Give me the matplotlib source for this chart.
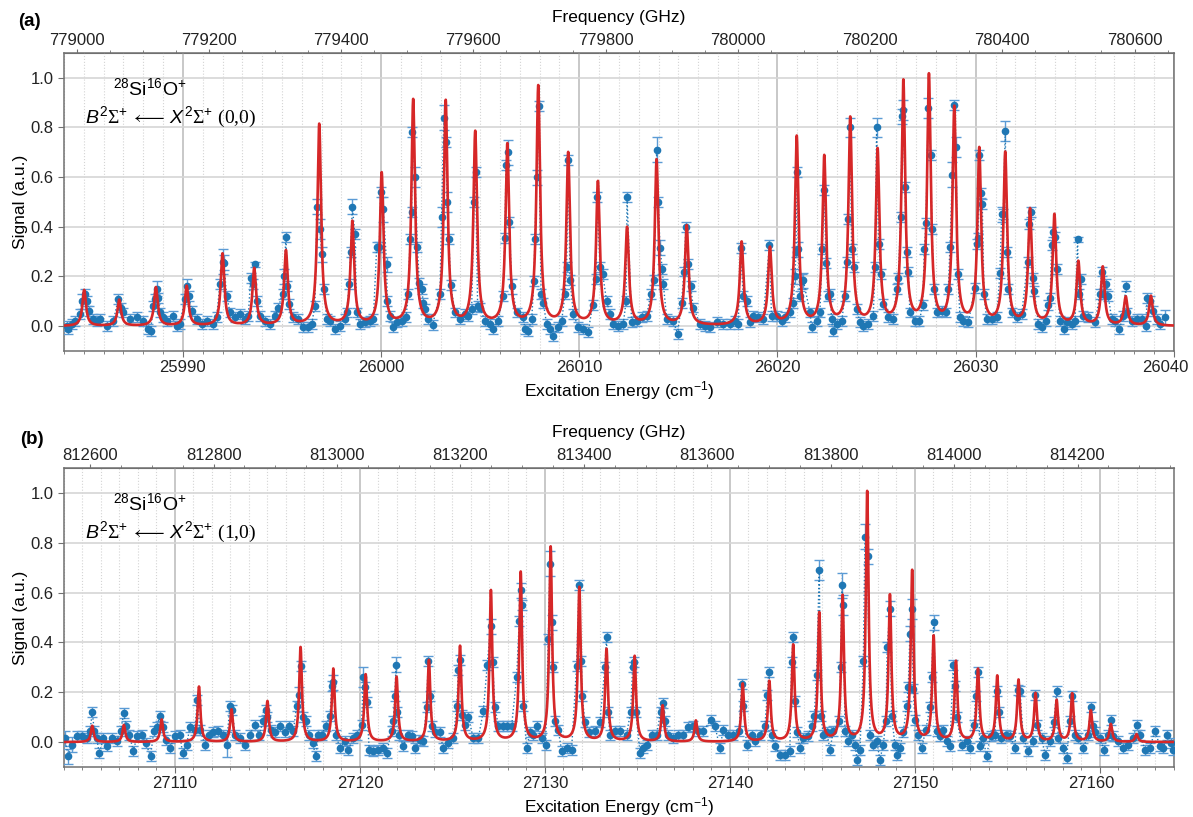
import numpy as np
import matplotlib
matplotlib.use("Agg")
import matplotlib.pyplot as plt
import matplotlib.transforms as mtransforms
from matplotlib.ticker import MultipleLocator, FixedLocator, FormatStrFormatter

plt.rcParams['font.family'] = ['Liberation Sans', 'DejaVu Sans']
plt.rcParams['mathtext.fontset'] = 'custom'
plt.rcParams['mathtext.rm'] = 'Liberation Serif'
plt.rcParams['mathtext.it'] = 'Liberation Sans:italic'
plt.rcParams['mathtext.sf'] = 'Liberation Sans'
plt.rcParams['mathtext.fallback'] = 'stix'

GHZ_PER_CM = 29.9792458

# ---------------- panel (a): (0,0) band ----------------
a_x = [
    25984.13, 25984.22, 25984.39, 25984.55, 25984.81, 25984.89, 25985.06, 25985.18, 25985.28, 25985.48,
    25985.65, 25985.82, 25986.15, 25986.49, 25986.74, 25986.86, 25986.99, 25987.33, 25987.67, 25988.00,
    25988.25, 25988.37, 25988.51, 25988.59, 25988.68, 25988.76, 25988.84, 25989.01, 25989.18, 25989.52,
    25989.68, 25989.85, 25990.10, 25990.19, 25990.32, 25990.44, 25990.69, 25990.95, 25991.20, 25991.53,
    25991.70, 25991.87, 25992.01, 25992.07, 25992.21, 25992.38, 25992.63, 25992.88, 25993.13, 25993.30,
    25993.42, 25993.55, 25993.64, 25993.72, 25993.89, 25994.14, 25994.39, 25994.65, 25994.81, 25995.03,
    25995.10, 25995.20, 25995.27, 25995.37, 25995.57, 25995.82, 25996.08, 25996.33, 25996.50, 25996.66,
    25996.78, 25996.92, 25997.00, 25997.12, 25997.25, 25997.42, 25997.67, 25997.93, 25998.18, 25998.26,
    25998.40, 25998.46, 25998.55, 25998.68, 25998.77, 25998.93, 25999.19, 25999.44, 25999.61, 25999.78,
    25999.91, 25999.98, 26000.11, 26000.28, 26000.31, 26000.45, 26000.62, 26000.78, 26001.04, 26001.26,
    26001.37, 26001.46, 26001.54, 26001.57, 26001.71, 26001.83, 26001.93, 26002.05, 26002.13, 26002.22,
    26002.38, 26002.60, 26002.97, 26003.05, 26003.17, 26003.26, 26003.34, 26003.42, 26003.51, 26003.73,
    26003.98, 26004.23, 26004.40, 26004.57, 26004.69, 26004.77, 26004.87, 26004.99, 26005.24, 26005.49,
    26005.66, 26005.91, 26006.13, 26006.25, 26006.30, 26006.38, 26006.47, 26006.59, 26006.84, 26007.17,
    26007.26, 26007.43, 26007.60, 26007.71, 26007.76, 26007.85, 26007.95, 26008.07, 26008.18, 26008.35,
    26008.52, 26008.69, 26008.94, 26009.11, 26009.28, 26009.36, 26009.45, 26009.53, 26009.70, 26009.95,
    26010.20, 26010.45, 26010.67, 26010.84, 26010.91, 26011.04, 26011.18, 26011.38, 26011.55, 26011.72,
    26011.97, 26012.22, 26012.36, 26012.41, 26012.64, 26012.89, 26013.15, 26013.40, 26013.60, 26013.77,
    26013.90, 26013.99, 26014.07, 26014.19, 26014.24, 26014.41, 26014.74, 26014.96, 26015.16, 26015.28,
    26015.38, 26015.50, 26015.62, 26015.75, 26016.09, 26016.34, 26016.59, 26016.93, 26017.27, 26017.60,
    26017.85, 26018.02, 26018.14, 26018.27, 26018.44, 26018.61, 26018.78, 26019.03, 26019.28, 26019.59,
    26019.70, 26019.96, 26020.21, 26020.38, 26020.63, 26020.80, 26020.88, 26020.93, 26021.00, 26021.05,
    26021.15, 26021.22, 26021.30, 26021.64, 26021.72, 26021.98, 26022.14, 26022.26, 26022.36, 26022.45,
    26022.56, 26022.65, 26022.73, 26022.78, 26022.98, 26023.24, 26023.40, 26023.49, 26023.57, 26023.66,
    26023.74, 26023.86, 26023.99, 26024.16, 26024.33, 26024.58, 26024.83, 26024.92, 26025.00, 26025.10,
    26025.20, 26025.34, 26025.59, 26025.84, 26026.01, 26026.10, 26026.21, 26026.30, 26026.35, 26026.43,
    26026.52, 26026.60, 26026.68, 26026.94, 26027.16, 26027.32, 26027.41, 26027.49, 26027.61, 26027.73,
    26027.79, 26027.90, 26028.03, 26028.28, 26028.48, 26028.62, 26028.70, 26028.82, 26028.92, 26029.00,
    26029.09, 26029.21, 26029.37, 26029.63, 26029.96, 26030.05, 26030.13, 26030.18, 26030.25, 26030.33,
    26030.42, 26030.55, 26030.80, 26031.06, 26031.22, 26031.31, 26031.39, 26031.49, 26031.58, 26031.65,
    26031.81, 26032.07, 26032.32, 26032.62, 26032.70, 26032.77, 26032.87, 26032.96, 26033.16, 26033.33,
    26033.53, 26033.66, 26033.75, 26033.83, 26033.92, 26034.02, 26034.08, 26034.25, 26034.47, 26034.62,
    26034.84, 26035.01, 26035.14, 26035.19, 26035.31, 26035.43, 26035.68, 26036.02, 26036.27, 26036.35,
    26036.44, 26036.57, 26036.69, 26036.86, 26037.03, 26037.25, 26037.45, 26037.57, 26037.62, 26037.87,
    26038.12, 26038.37, 26038.57, 26038.66, 26038.79, 26038.93, 26039.13, 26039.30, 26039.55,
]
a_y = [
    0.00, -0.01, 0.01, 0.02, 0.05, 0.10, 0.13, 0.10, 0.06, 0.03,
    0.02, 0.03, 0.00, 0.02, 0.11, 0.075, 0.055, 0.03, 0.035, 0.02,
    -0.01, -0.02, 0.08, 0.11, 0.15, 0.115, 0.055, 0.035, 0.02, 0.04,
    0.00, 0.01, 0.11, 0.16, 0.12, 0.06, 0.03, 0.01, 0.02, 0.01,
    0.035, 0.17, 0.26, 0.255, 0.12, 0.055, 0.035, 0.05, 0.03, 0.04,
    0.195, 0.17, 0.25, 0.10, 0.04, 0.02, 0.01, 0.04, 0.075, 0.13,
    0.20, 0.36, 0.16, 0.09, 0.035, 0.03, -0.005, -0.005, 0.01, 0.08,
    0.48, 0.39, 0.29, 0.15, 0.03, 0.02, -0.01, 0.00, 0.03, 0.055,
    0.17, 0.30, 0.48, 0.37, 0.055, 0.01, 0.015, 0.02, 0.03, 0.32,
    0.32, 0.54, 0.47, 0.25, 0.10, 0.04, -0.005, 0.015, 0.02, 0.035,
    0.13, 0.35, 0.46, 0.78, 0.60, 0.32, 0.175, 0.15, 0.095, 0.07,
    0.03, 0.005, 0.13, 0.44, 0.84, 0.74, 0.50, 0.35, 0.165, 0.055,
    0.03, 0.05, 0.04, 0.07, 0.50, 0.62, 0.08, 0.075, 0.02, 0.01,
    -0.01, 0.02, 0.12, 0.355, 0.65, 0.70, 0.42, 0.16, 0.055, 0.035,
    -0.01, -0.02, 0.03, 0.18, 0.35, 0.60, 0.885, 0.13, 0.095, 0.01,
    -0.01, -0.04, -0.005, 0.02, 0.13, 0.24, 0.67, 0.185, 0.05, -0.005,
    -0.01, -0.025, 0.085, 0.19, 0.52, 0.24, 0.21, 0.10, 0.05, 0.01,
    0.00, 0.01, 0.10, 0.52, 0.015, 0.02, 0.035, 0.04, 0.13, 0.185,
    0.71, 0.50, 0.315, 0.23, 0.17, 0.03, 0.02, -0.03, 0.095, 0.22,
    0.40, 0.25, 0.16, 0.075, 0.01, 0.00, -0.005, 0.015, 0.01, 0.01,
    0.02, 0.01, 0.315, 0.12, 0.10, 0.015, 0.04, 0.035, 0.03, 0.325,
    0.04, 0.04, 0.02, 0.035, 0.055, 0.095, 0.20, 0.30, 0.62, 0.31,
    0.12, 0.18, 0.185, 0.055, -0.005, 0.02, 0.055, 0.31, 0.55, 0.255,
    0.12, 0.13, 0.03, -0.02, 0.01, 0.02, 0.12, 0.26, 0.43, 0.80,
    0.31, 0.24, 0.07, 0.015, 0.00, 0.01, 0.04, 0.24, 0.80, 0.33,
    0.21, 0.09, 0.035, 0.03, 0.15, 0.195, 0.44, 0.845, 0.87, 0.56,
    0.30, 0.22, 0.055, 0.02, 0.02, 0.085, 0.31, 0.415, 0.88, 0.69,
    0.39, 0.15, 0.055, 0.06, 0.055, 0.15, 0.32, 0.61, 0.89, 0.72,
    0.21, 0.035, 0.02, 0.015, 0.155, 0.33, 0.355, 0.69, 0.535, 0.49,
    0.13, 0.03, 0.03, 0.035, 0.215, 0.45, 0.45, 0.785, 0.30, 0.15,
    0.055, 0.035, 0.048, 0.26, 0.41, 0.46, 0.195, 0.14, 0.01, -0.005,
    0.02, 0.085, 0.115, 0.325, 0.38, 0.36, 0.23, 0.02, -0.01, 0.015,
    0.01, 0.02, 0.35, 0.13, 0.19, 0.04, 0.035, 0.015, 0.13, 0.22,
    0.13, 0.17, 0.12, 0.03, 0.02, -0.01, 0.04, 0.16, 0.055, 0.02,
    0.03, 0.03, 0.00, 0.115, 0.10, 0.06, 0.03, 0.01, 0.035,
]
a_err = [
    0.02, 0.02, 0.02, 0.02, 0.02, 0.03, 0.02, 0.02, 0.02, 0.02,
    0.02, 0.02, 0.02, 0.02, 0.02, 0.02, 0.02, 0.02, 0.02, 0.02,
    0.02, 0.02, 0.02, 0.02, 0.03, 0.02, 0.02, 0.02, 0.02, 0.02,
    0.02, 0.02, 0.02, 0.03, 0.02, 0.02, 0.02, 0.02, 0.02, 0.02,
    0.02, 0.02, 0.05, 0.03, 0.02, 0.02, 0.02, 0.02, 0.02, 0.02,
    0.02, 0.02, 0.01, 0.02, 0.02, 0.02, 0.02, 0.02, 0.02, 0.02,
    0.03, 0.02, 0.02, 0.02, 0.02, 0.02, 0.02, 0.02, 0.02, 0.02,
    0.03, 0.04, 0.03, 0.02, 0.02, 0.02, 0.02, 0.02, 0.02, 0.02,
    0.02, 0.02, 0.03, 0.02, 0.02, 0.02, 0.02, 0.02, 0.02, 0.02,
    0.02, 0.02, 0.05, 0.03, 0.02, 0.02, 0.02, 0.02, 0.02, 0.02,
    0.02, 0.02, 0.02, 0.02, 0.04, 0.02, 0.02, 0.02, 0.02, 0.02,
    0.02, 0.02, 0.02, 0.04, 0.05, 0.02, 0.04, 0.02, 0.02, 0.02,
    0.02, 0.02, 0.02, 0.02, 0.02, 0.02, 0.02, 0.02, 0.02, 0.02,
    0.02, 0.02, 0.02, 0.02, 0.02, 0.05, 0.02, 0.03, 0.02, 0.02,
    0.02, 0.02, 0.02, 0.02, 0.02, 0.03, 0.02, 0.02, 0.02, 0.02,
    0.02, 0.02, 0.02, 0.02, 0.02, 0.02, 0.02, 0.02, 0.02, 0.02,
    0.02, 0.02, 0.02, 0.02, 0.02, 0.02, 0.02, 0.02, 0.02, 0.02,
    0.02, 0.02, 0.02, 0.02, 0.02, 0.02, 0.02, 0.02, 0.02, 0.02,
    0.05, 0.02, 0.03, 0.02, 0.02, 0.02, 0.02, 0.02, 0.02, 0.02,
    0.02, 0.02, 0.02, 0.02, 0.02, 0.02, 0.02, 0.02, 0.02, 0.02,
    0.02, 0.02, 0.02, 0.02, 0.02, 0.02, 0.02, 0.02, 0.02, 0.02,
    0.02, 0.02, 0.02, 0.02, 0.02, 0.02, 0.03, 0.02, 0.02, 0.03,
    0.02, 0.03, 0.03, 0.02, 0.02, 0.02, 0.02, 0.02, 0.02, 0.02,
    0.02, 0.02, 0.02, 0.02, 0.02, 0.02, 0.02, 0.02, 0.02, 0.04,
    0.02, 0.02, 0.02, 0.02, 0.02, 0.02, 0.02, 0.02, 0.04, 0.02,
    0.02, 0.02, 0.02, 0.02, 0.02, 0.02, 0.02, 0.03, 0.04, 0.02,
    0.02, 0.02, 0.02, 0.02, 0.02, 0.02, 0.02, 0.02, 0.04, 0.02,
    0.02, 0.02, 0.02, 0.02, 0.02, 0.02, 0.02, 0.05, 0.02, 0.04,
    0.02, 0.02, 0.02, 0.02, 0.02, 0.02, 0.02, 0.02, 0.02, 0.02,
    0.02, 0.02, 0.02, 0.02, 0.02, 0.03, 0.02, 0.04, 0.02, 0.02,
    0.02, 0.02, 0.02, 0.02, 0.02, 0.02, 0.02, 0.02, 0.02, 0.02,
    0.02, 0.02, 0.02, 0.02, 0.02, 0.02, 0.02, 0.02, 0.02, 0.02,
    0.02, 0.02, 0.01, 0.02, 0.02, 0.02, 0.02, 0.02, 0.02, 0.02,
    0.02, 0.02, 0.02, 0.02, 0.02, 0.02, 0.02, 0.02, 0.02, 0.02,
    0.02, 0.02, 0.02, 0.02, 0.02, 0.02, 0.02, 0.02, 0.03,
]
# fitted line positions (cm-1) and heights
a_lines = [25985.02, 25986.79, 25988.64, 25990.19, 25992.00, 25993.60, 25995.20, 25996.88,
           25998.55, 26000.03, 26001.62, 26003.26, 26004.75, 26006.37, 26007.93, 26009.44,
           26010.94, 26012.41, 26013.90, 26015.42, 26018.19, 26019.62, 26020.97, 26022.36,
           26023.67, 26025.05, 26026.35, 26027.64, 26028.92, 26030.18, 26031.49, 26032.74,
           26033.97, 26035.18, 26036.41, 26037.57, 26038.84]
a_amp = [0.145, 0.105, 0.155, 0.16, 0.29, 0.23, 0.30, 0.81,
         0.415, 0.61, 0.905, 0.90, 0.775, 0.725, 0.96, 0.69,
         0.575, 0.39, 0.665, 0.40, 0.335, 0.31, 0.757, 0.675,
         0.83, 0.70, 0.976, 1.0, 0.87, 0.705, 0.69, 0.463,
         0.443, 0.255, 0.235, 0.115, 0.12]
a_cm_ticks = [25990, 26000, 26010, 26020, 26030, 26040]
a_ghz_ticks = [779000, 779200, 779400, 779600, 779800, 780000, 780200, 780400, 780600]

# ---------------- panel (b): (1,0) band ----------------
b_x = [
    27104.05, 27104.23, 27104.41, 27104.68, 27104.95, 27105.26, 27105.41, 27105.53, 27105.64, 27105.77,
    27105.91, 27106.13, 27106.31, 27106.58, 27106.85, 27107.06, 27107.24, 27107.35, 27107.53, 27107.75,
    27107.96, 27108.20, 27108.43, 27108.68, 27108.86, 27109.01, 27109.19, 27109.33, 27109.50, 27109.73,
    27110.00, 27110.27, 27110.41, 27110.63, 27110.81, 27111.08, 27111.21, 27111.35, 27111.62, 27111.86,
    27112.07, 27112.34, 27112.58, 27112.79, 27112.97, 27113.10, 27113.24, 27113.51, 27113.78, 27114.05,
    27114.32, 27114.56, 27114.77, 27114.92, 27114.99, 27115.17, 27115.41, 27115.68, 27115.95, 27116.18,
    27116.40, 27116.58, 27116.70, 27116.79, 27116.90, 27117.08, 27117.26, 27117.44, 27117.62, 27117.75,
    27117.93, 27118.16, 27118.38, 27118.47, 27118.56, 27118.70, 27118.92, 27119.19, 27119.37, 27119.64,
    27119.82, 27120.09, 27120.18, 27120.27, 27120.36, 27120.50, 27120.72, 27120.99, 27121.26, 27121.44,
    27121.71, 27121.80, 27121.89, 27121.95, 27122.02, 27122.13, 27122.34, 27122.61, 27122.79, 27122.97,
    27123.24, 27123.42, 27123.60, 27123.69, 27123.78, 27123.91, 27124.05, 27124.32, 27124.50, 27124.77,
    27125.05, 27125.23, 27125.32, 27125.41, 27125.53, 27125.68, 27125.86, 27126.13, 27126.40, 27126.67,
    27126.88, 27127.06, 27127.17, 27127.30, 27127.48, 27127.71, 27127.93, 27128.20, 27128.47, 27128.61,
    27128.68, 27128.77, 27128.83, 27129.01, 27129.19, 27129.37, 27129.55, 27129.82, 27130.04, 27130.18,
    27130.27, 27130.36, 27130.41, 27130.54, 27130.72, 27130.90, 27131.17, 27131.44, 27131.71, 27131.84,
    27131.95, 27132.02, 27132.16, 27132.40, 27132.70, 27132.97, 27133.24, 27133.33, 27133.42, 27133.51,
    27133.78, 27134.05, 27134.41, 27134.63, 27134.74, 27134.83, 27134.92, 27135.14, 27135.32, 27135.50,
    27135.77, 27136.04, 27136.25, 27136.36, 27136.49, 27136.67, 27136.94, 27137.21, 27137.48, 27137.75,
    27138.02, 27138.29, 27138.56, 27138.95, 27139.19, 27139.46, 27139.64, 27139.91, 27140.18, 27140.50,
    27140.63, 27140.72, 27140.90, 27141.17, 27141.35, 27141.62, 27141.89, 27142.02, 27142.11, 27142.25,
    27142.43, 27142.70, 27142.97, 27143.24, 27143.33, 27143.42, 27143.51, 27143.64, 27143.78, 27143.96,
    27144.23, 27144.41, 27144.56, 27144.68, 27144.83, 27144.92, 27145.05, 27145.23, 27145.41, 27145.59,
    27145.91, 27145.98, 27146.05, 27146.13, 27146.22, 27146.40, 27146.58, 27146.76, 27146.88, 27147.03,
    27147.21, 27147.30, 27147.44, 27147.57, 27147.75, 27147.93, 27148.11, 27148.29, 27148.43, 27148.50,
    27148.65, 27148.74, 27148.92, 27149.05, 27149.19, 27149.37, 27149.55, 27149.64, 27149.73, 27149.82,
    27149.91, 27150.00, 27150.18, 27150.36, 27150.59, 27150.81, 27150.90, 27151.01, 27151.17, 27151.35,
    27151.53, 27151.71, 27151.89, 27152.07, 27152.16, 27152.25, 27152.52, 27152.79, 27152.97, 27153.19,
    27153.28, 27153.39, 27153.51, 27153.69, 27153.87, 27154.09, 27154.32, 27154.45, 27154.56, 27154.68,
    27154.92, 27155.14, 27155.41, 27155.55, 27155.68, 27155.86, 27156.13, 27156.36, 27156.49, 27156.61,
    27156.85, 27157.03, 27157.30, 27157.51, 27157.66, 27157.75, 27157.98, 27158.20, 27158.38, 27158.50,
    27158.65, 27158.83, 27159.10, 27159.37, 27159.50, 27159.60, 27159.73, 27160.00, 27160.22, 27160.45,
    27160.58, 27160.72, 27160.99, 27161.26, 27161.53, 27161.80, 27161.98, 27162.16, 27162.43, 27162.70,
    27162.97, 27163.24, 27163.42, 27163.64, 27163.82, 27163.93,
]
b_y = [
    0.015, -0.057, -0.01, 0.025, 0.025, 0.015, 0.045, 0.12, 0.045, 0.015,
    -0.045, 0.015, -0.015, 0.015, 0.005, 0.045, 0.115, 0.065, 0.03, -0.035,
    0.025, 0.03, -0.005, -0.057, 0.045, 0.06, 0.105, 0.06, 0.01, -0.025,
    0.025, 0.03, -0.045, -0.01, 0.06, 0.05, 0.17, 0.05, -0.01, 0.03,
    0.04, 0.045, 0.03, -0.01, 0.145, 0.13, 0.03, 0.015, -0.01, 0.03,
    0.07, 0.03, 0.085, 0.13, 0.10, 0.05, 0.04, 0.065, 0.04, 0.065,
    0.045, 0.145, 0.19, 0.305, 0.10, 0.085, 0.03, -0.005, -0.057, 0.03,
    0.03, 0.065, 0.105, 0.225, 0.24, 0.03, -0.025, 0.005, -0.03, 0.015,
    0.03, 0.07, 0.26, 0.22, 0.16, -0.03, -0.035, -0.03, -0.025, -0.045,
    0.045, 0.085, 0.185, 0.31, 0.12, 0.03, -0.015, 0.03, 0.025, -0.025,
    0.01, 0.005, 0.14, 0.325, 0.185, 0.065, 0.04, 0.04, -0.025, -0.005,
    0.015, 0.145, 0.29, 0.33, 0.11, 0.07, 0.10, 0.015, 0.015, 0.125,
    0.31, 0.465, 0.32, 0.14, 0.065, 0.065, 0.065, 0.065, 0.26, 0.485,
    0.61, 0.55, 0.145, -0.025, 0.04, 0.03, 0.065, 0.015, -0.01, 0.415,
    0.715, 0.48, 0.30, 0.085, 0.05, -0.035, -0.025, -0.03, 0.305, 0.63,
    0.325, 0.185, 0.08, 0.04, 0.045, 0.08, 0.30, 0.42, 0.12, 0.03,
    0.045, 0.045, 0.03, 0.12, 0.30, 0.32, 0.12, -0.045, -0.025, -0.01,
    0.03, 0.03, 0.12, 0.155, 0.085, 0.03, 0.015, 0.03, 0.03, 0.06,
    0.065, 0.045, 0.045, 0.087, 0.065, -0.025, 0.05, 0.03, 0.03, 0.045,
    0.235, 0.145, -0.01, 0.03, 0.005, 0.03, 0.065, 0.19, 0.28, 0.03,
    -0.015, -0.05, -0.05, -0.035, 0.32, 0.42, 0.165, 0.04, -0.025, 0.015,
    0.025, 0.065, 0.105, 0.27, 0.69, 0.105, 0.03, 0.04, -0.03, 0.045,
    0.085, 0.30, 0.63, 0.55, 0.045, 0.005, 0.03, -0.01, -0.07, -0.03,
    0.325, 0.825, 0.745, 0.03, -0.01, 0.005, -0.07, -0.01, 0.085, 0.38,
    0.535, 0.105, -0.01, -0.05, -0.025, 0.04, 0.145, 0.22, 0.435, 0.535,
    0.215, 0.09, 0.03, -0.025, 0.05, 0.14, 0.26, 0.48, 0.045, 0.025,
    0.05, 0.005, -0.015, 0.31, 0.225, 0.10, -0.01, 0.005, -0.025, 0.07,
    0.185, 0.28, -0.015, 0.015, -0.055, 0.025, 0.03, 0.205, 0.12, 0.015,
    0.03, 0.025, -0.025, 0.21, 0.205, 0.015, -0.035, 0.005, 0.19, 0.07,
    0.015, -0.05, 0.005, 0.08, 0.205, 0.015, -0.025, -0.065, 0.085, 0.185,
    0.03, 0.015, -0.025, 0.03, 0.14, 0.065, 0.04, 0.015, -0.03, 0.03,
    0.09, 0.025, 0.005, -0.025, -0.01, 0.015, 0.07, 0.03, -0.03, -0.025,
    0.045, -0.015, -0.025, 0.03, -0.005, -0.03,
]
b_err = [
    0.03, 0.03, 0.03, 0.02, 0.02, 0.02, 0.02, 0.02, 0.02, 0.02,
    0.02, 0.02, 0.02, 0.02, 0.02, 0.02, 0.02, 0.02, 0.02, 0.02,
    0.02, 0.02, 0.02, 0.02, 0.02, 0.02, 0.02, 0.02, 0.02, 0.02,
    0.02, 0.02, 0.02, 0.02, 0.02, 0.02, 0.02, 0.02, 0.02, 0.02,
    0.02, 0.02, 0.02, 0.05, 0.02, 0.02, 0.02, 0.02, 0.02, 0.02,
    0.02, 0.02, 0.02, 0.02, 0.02, 0.02, 0.02, 0.02, 0.02, 0.02,
    0.02, 0.02, 0.03, 0.02, 0.02, 0.02, 0.02, 0.02, 0.02, 0.02,
    0.02, 0.02, 0.02, 0.02, 0.03, 0.02, 0.02, 0.02, 0.02, 0.02,
    0.02, 0.02, 0.04, 0.02, 0.02, 0.02, 0.02, 0.02, 0.02, 0.02,
    0.02, 0.02, 0.02, 0.03, 0.02, 0.02, 0.02, 0.02, 0.02, 0.02,
    0.02, 0.02, 0.02, 0.02, 0.02, 0.02, 0.02, 0.02, 0.02, 0.02,
    0.02, 0.02, 0.02, 0.02, 0.02, 0.02, 0.02, 0.02, 0.02, 0.02,
    0.02, 0.03, 0.02, 0.02, 0.02, 0.02, 0.02, 0.02, 0.02, 0.02,
    0.03, 0.02, 0.02, 0.02, 0.02, 0.02, 0.02, 0.02, 0.02, 0.02,
    0.05, 0.03, 0.02, 0.02, 0.02, 0.02, 0.02, 0.02, 0.02, 0.02,
    0.02, 0.02, 0.02, 0.02, 0.02, 0.02, 0.02, 0.02, 0.02, 0.02,
    0.02, 0.02, 0.02, 0.02, 0.02, 0.02, 0.02, 0.02, 0.02, 0.02,
    0.02, 0.02, 0.02, 0.02, 0.02, 0.02, 0.02, 0.02, 0.02, 0.02,
    0.02, 0.02, 0.02, 0.02, 0.02, 0.02, 0.02, 0.02, 0.02, 0.02,
    0.02, 0.02, 0.02, 0.02, 0.02, 0.02, 0.02, 0.02, 0.02, 0.02,
    0.02, 0.02, 0.02, 0.02, 0.02, 0.02, 0.02, 0.02, 0.02, 0.02,
    0.02, 0.02, 0.02, 0.02, 0.04, 0.02, 0.02, 0.02, 0.02, 0.02,
    0.02, 0.02, 0.05, 0.04, 0.02, 0.02, 0.02, 0.02, 0.02, 0.02,
    0.02, 0.05, 0.03, 0.02, 0.02, 0.02, 0.02, 0.02, 0.02, 0.02,
    0.03, 0.02, 0.02, 0.02, 0.02, 0.02, 0.02, 0.02, 0.03, 0.04,
    0.02, 0.02, 0.02, 0.02, 0.02, 0.02, 0.02, 0.03, 0.02, 0.02,
    0.02, 0.02, 0.02, 0.02, 0.02, 0.02, 0.02, 0.02, 0.02, 0.02,
    0.02, 0.02, 0.02, 0.02, 0.02, 0.02, 0.02, 0.02, 0.02, 0.02,
    0.02, 0.02, 0.02, 0.02, 0.02, 0.02, 0.02, 0.02, 0.02, 0.02,
    0.02, 0.02, 0.02, 0.02, 0.02, 0.02, 0.02, 0.02, 0.02, 0.02,
    0.02, 0.02, 0.02, 0.02, 0.02, 0.02, 0.02, 0.02, 0.02, 0.02,
    0.02, 0.02, 0.02, 0.02, 0.02, 0.02, 0.02, 0.02, 0.02, 0.02,
    0.02, 0.02, 0.02, 0.02, 0.02, 0.02,
]
b_lines = [27105.53, 27107.24, 27109.28, 27111.30, 27113.06, 27115.00, 27116.79, 27118.56,
           27120.31, 27121.98, 27123.73, 27125.41, 27127.08, 27128.69, 27130.31, 27131.86,
           27133.33, 27134.85, 27136.36, 27138.16, 27140.69, 27142.13, 27143.42, 27144.83,
           27146.09, 27147.42, 27148.65, 27149.85, 27151.01, 27152.22, 27153.41, 27154.45,
           27155.60, 27156.52, 27157.66, 27158.50, 27159.51, 27160.59, 27161.98]
b_amp = [0.065, 0.068, 0.09, 0.222, 0.13, 0.163, 0.38, 0.293,
         0.27, 0.26, 0.327, 0.383, 0.606, 0.679, 0.78, 0.618,
         0.37, 0.343, 0.145, 0.085, 0.233, 0.242, 0.387, 0.515,
         0.582, 1.0, 0.582, 0.683, 0.42, 0.32, 0.289, 0.262,
         0.246, 0.192, 0.165, 0.192, 0.125, 0.071, 0.031]
b_cm_ticks = [27110, 27120, 27130, 27140, 27150, 27160]
b_ghz_ticks = [812600, 812800, 813000, 813200, 813400, 813600, 813800, 814000, 814200]


def lorentz_sum(x, centers, heights, hwhm):
    y = np.zeros_like(x)
    for c, h in zip(centers, heights):
        y += h * hwhm**2 / ((x - c)**2 + hwhm**2)
    return y


def draw_panel(ax, x, y, err, lines, amp, hwhm, xlim, cm_ticks, ghz_ticks, band):
    ax.errorbar(x, y, yerr=err, fmt='o:', ms=4.5, color='#1f77b4', lw=1,
                ecolor='#5b9bd5', elinewidth=1, capsize=3.5, capthick=1, zorder=3)
    xx = np.linspace(xlim[0], xlim[1], 15000)
    ax.plot(xx, lorentz_sum(xx, lines, amp, hwhm), color='#d62728', lw=1.9, zorder=4)

    ax.set_xlim(*xlim)
    ax.set_ylim(-0.1, 1.1)
    ax.yaxis.set_major_locator(MultipleLocator(0.2))
    ax.yaxis.set_major_formatter(FormatStrFormatter('%.1f'))
    ax.xaxis.set_major_locator(FixedLocator(cm_ticks))
    ax.xaxis.set_minor_locator(MultipleLocator(1))
    ax.xaxis.set_major_formatter(FormatStrFormatter('%d'))
    ax.xaxis.grid(True, which='major', color='#c4c4c4', lw=1.3)
    ax.xaxis.grid(True, which='minor', color='#d4d4d4', lw=0.8, ls=':')
    ax.yaxis.grid(True, which='major', color='#d6d6d6', lw=1.2)
    ax.set_axisbelow(True)
    for s in ax.spines.values():
        s.set_color('#707070')
        s.set_linewidth(1.1)
    ax.tick_params(axis='both', which='major', labelsize=12, colors='#707070',
                   labelcolor='#222222', length=4, direction='out')
    ax.tick_params(axis='x', which='major', pad=2.5)
    ax.tick_params(axis='x', which='minor', length=2.5, colors='#707070')
    ax.set_xlabel('Excitation Energy (cm$^{\\mathsf{-1}}$)', fontsize=12.5, labelpad=3)
    ax.set_ylabel('Signal (a.u.)', fontsize=12.5, labelpad=2)

    # keep the label on the right edge inside the figure, as in the original
    last = ax.xaxis.get_major_ticks()[len(cm_ticks) - 1].label1
    last.set_transform(last.get_transform() +
                       mtransforms.ScaledTranslation(-6 / 72, 0, ax.figure.dpi_scale_trans))

    top = ax.secondary_xaxis('top', functions=(lambda v: v * GHZ_PER_CM,
                                               lambda v: v / GHZ_PER_CM))
    top.xaxis.set_major_locator(FixedLocator(ghz_ticks))
    top.xaxis.set_minor_locator(MultipleLocator(50))
    top.xaxis.set_major_formatter(FormatStrFormatter('%d'))
    top.tick_params(axis='x', which='major', labelsize=12, colors='#707070',
                    labelcolor='#222222', length=3, pad=0.5, direction='out')
    top.tick_params(axis='x', which='minor', length=2, colors='#707070')
    top.spines['top'].set_color('#707070')
    top.set_xlabel('Frequency (GHz)', fontsize=12.5, labelpad=8)

    ax.text(0.077, 0.883, r'$\mathsf{^{28}Si^{16}O^{+}}$', transform=ax.transAxes,
            fontsize=14, ha='center', va='center')
    ax.text(0.019, 0.785,
            r'$\mathit{B}^{\mathsf{2}}\Sigma^{\mathsf{+}}\,\longleftarrow\,\mathit{X}^{\mathsf{2}}'
            r'\Sigma^{\mathsf{+}}\ \mathrm{' + band + '}$',
            transform=ax.transAxes, fontsize=14, ha='left', va='center')


fig = plt.figure(figsize=(11.93, 8.17), dpi=100)
ax_a = fig.add_axes([0.0536, 0.5704, 0.9304, 0.3648])
ax_b = fig.add_axes([0.0536, 0.0612, 0.9304, 0.3660])

draw_panel(ax_a, a_x, a_y, a_err, a_lines, a_amp, 0.11, (25984, 26040),
           a_cm_ticks, a_ghz_ticks, '(0{,}0)')
draw_panel(ax_b, b_x, b_y, b_err, b_lines, b_amp, 0.09, (27104, 27164),
           b_cm_ticks, b_ghz_ticks, '(1{,}0)')

fig.text(18 / 1193, 1 - 21 / 817, '(a)', fontsize=13.5, fontweight='bold', va='center')
fig.text(20 / 1193, 1 - 440 / 817, '(b)', fontsize=13.5, fontweight='bold', va='center')

fig.savefig('out.png', dpi=100)
